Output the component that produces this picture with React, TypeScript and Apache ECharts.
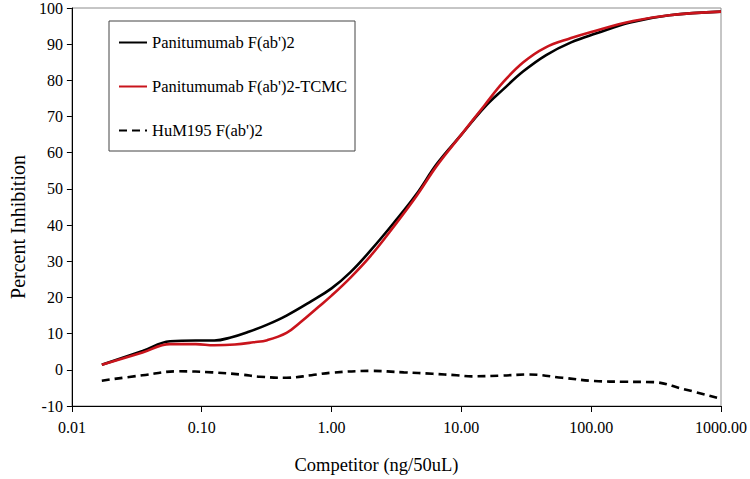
import React, { useEffect, useRef } from "react";
import * as echarts from "echarts";

const seriesNames = ["Panitumumab F(ab')2", "Panitumumab F(ab')2-TCMC", "HuM195 F(ab')2"];

const xTickLabels = ["0.01", "0.10", "1.00", "10.00", "100.00", "1000.00"];
const yTickValues = [-10, 0, 10, 20, 30, 40, 50, 60, 70, 80, 90, 100];

const blackX = [0.017, 0.035, 0.057, 0.09, 0.125, 0.17, 0.23, 0.32, 0.45, 0.7, 1, 1.4, 2, 3, 4.5, 6.5, 10, 15, 21, 30, 45, 70, 110, 200, 400, 1000];
const blackY = [1.4, 5.2, 7.9, 8.1, 8.1, 9, 10.5, 12.5, 15, 19, 22.5, 27, 33, 40.5, 48.5, 57, 65, 72.5, 77.5, 82.5, 87, 90.5, 93, 96, 98, 99];

const redX = [0.017, 0.035, 0.057, 0.09, 0.125, 0.18, 0.25, 0.32, 0.45, 0.57, 0.8, 1, 1.4, 2, 3, 4.5, 6.5, 10, 15, 21, 30, 44, 70, 100, 210, 400, 1000];
const redY = [1.4, 4.8, 7.1, 7.1, 6.8, 7, 7.6, 8.2, 10.2, 13, 17.5, 20.5, 25.5, 31.5, 39.5, 48, 56.5, 65, 73, 79.5, 85, 89, 91.7, 93.4, 96.4, 98, 99];

const dashX = [0.017, 0.035, 0.066, 0.12, 0.2, 0.28, 0.45, 0.7, 1, 2, 3.6, 6, 9.2, 12, 20, 33, 60, 106, 180, 300, 500, 1000];
const dashY = [-3, -1.5, -0.4, -0.7, -1.3, -1.9, -2.2, -1.5, -0.8, -0.3, -0.7, -1.1, -1.5, -1.8, -1.6, -1.3, -2.2, -3.1, -3.3, -3.4, -5.2, -8];

const zip = (xs: number[], ys: number[]) => xs.map((x, i) => [x, ys[i]]);

export default function App() {
  const ref = useRef<HTMLDivElement>(null);
  useEffect(() => {
    if (!ref.current) return;
    const chart = echarts.init(ref.current, undefined, { renderer: "svg" });
    const font = "Liberation Serif";
    chart.setOption({
      animation: false,
      backgroundColor: "#ffffff",
      textStyle: { fontFamily: font },
      grid: {
        left: 62,
        right: 28,
        top: 7,
        bottom: 70,
        show: true,
        borderColor: "#8c8c8c",
        borderWidth: 1,
        containLabel: false,
      },
      legend: {
        orient: "vertical",
        left: 109,
        top: 21,
        data: seriesNames,
        itemWidth: 28,
        itemHeight: 14,
        itemGap: 27,
        padding: [13, 8, 12, 9],
        borderColor: "#444444",
        borderWidth: 1,
        itemStyle: { opacity: 0 },
        textStyle: { fontFamily: font, fontSize: 16.5, color: "#000" },
      },
      xAxis: {
        type: "log",
        logBase: 10,
        min: 0.01,
        max: 1000,
        name: "Competitor (ng/50uL)",
        nameLocation: "middle",
        nameGap: 49,
        nameTextStyle: { fontFamily: font, fontSize: 18.5, color: "#000", padding: [0, 40, 0, 0] },
        axisLine: { show: true, onZero: false, lineStyle: { color: "#000", width: 1 } },
        axisTick: { show: true, length: 6, inside: false, lineStyle: { color: "#000" } },
        minorTick: { show: false },
        splitLine: { show: false },
        axisLabel: {
          fontFamily: font,
          fontSize: 16,
          color: "#000",
          margin: 13,
          formatter: (v: number) => {
            const idx = Math.round(Math.log10(v)) + 2;
            return xTickLabels[idx] ?? "";
          },
        },
      },
      yAxis: {
        type: "value",
        min: yTickValues[0],
        max: yTickValues[yTickValues.length - 1],
        interval: 10,
        name: "Percent Inhibition",
        nameLocation: "middle",
        nameGap: 42,
        nameTextStyle: { fontFamily: font, fontSize: 20, color: "#000", padding: [0, 40, 0, 0] },
        axisLine: { show: true, lineStyle: { color: "#000", width: 1 } },
        axisTick: { show: true, length: 5, inside: false, lineStyle: { color: "#000" } },
        splitLine: { show: false },
        axisLabel: { fontFamily: font, fontSize: 16, color: "#000", margin: 9 },
      },
      series: [
        {
          name: seriesNames[0],
          type: "line",
          data: zip(blackX, blackY),
          smooth: 0.4,
          showSymbol: false,
          symbol: "none",
          itemStyle: { color: "#000000" },
          lineStyle: { color: "#000000", width: 2.6 },
          z: 3,
        },
        {
          name: seriesNames[1],
          type: "line",
          data: zip(redX, redY),
          smooth: 0.4,
          showSymbol: false,
          symbol: "none",
          itemStyle: { color: "#c9141c" },
          lineStyle: { color: "#c9141c", width: 2.6 },
          z: 4,
        },
        {
          name: seriesNames[2],
          type: "line",
          data: zip(dashX, dashY),
          smooth: 0.4,
          showSymbol: false,
          symbol: "none",
          itemStyle: { color: "#000000" },
          lineStyle: { color: "#000000", width: 2.6, type: [8, 5] },
          z: 2,
        },
      ],
    });
    return () => chart.dispose();
  }, []);
  return <div ref={ref} style={{ width: 750, height: 479, position: "absolute", left: 0, top: 0 }} />;
}
